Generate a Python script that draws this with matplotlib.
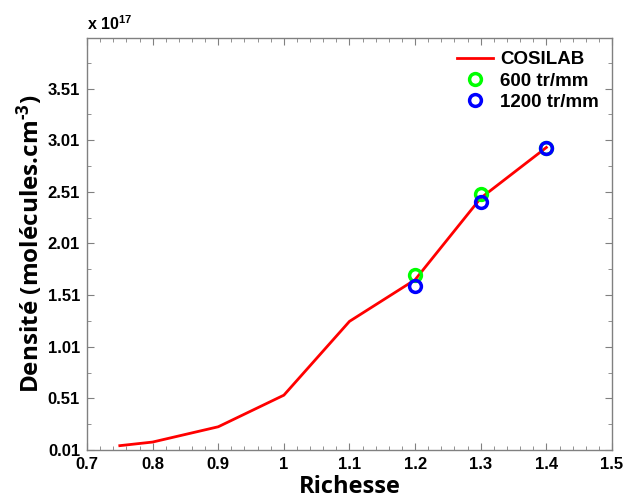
import matplotlib
matplotlib.use("Agg")
import matplotlib.pyplot as plt
import numpy as np

# Data (density in units of 1e17 molecules/cm^3)
richesse_cosilab = [0.75, 0.8, 0.9, 1.0, 1.1, 1.2, 1.3, 1.4]
densite_cosilab = [0.052, 0.087, 0.235, 0.541, 1.256, 1.659, 2.45, 2.94]

richesse_600 = [1.2, 1.3, 1.4]
densite_600 = [1.70, 2.49, 2.93]

richesse_1200 = [1.2, 1.3, 1.4]
densite_1200 = [1.60, 2.41, 2.93]

xticks = [0.7, 0.8, 0.9, 1.0, 1.1, 1.2, 1.3, 1.4, 1.5]
xticklabels = ["0.7", "0.8", "0.9", "1", "1.1", "1.2", "1.3", "1.4", "1.5"]
yticks = [0.01, 0.51, 1.01, 1.51, 2.01, 2.51, 3.01, 3.51]
yticklabels = ["0.01", "0.51", "1.01", "1.51", "2.01", "2.51", "3.01", "3.51"]

tick_font = "Liberation Sans"
label_font = "Open Sans"

plt.rcParams["mathtext.fontset"] = "custom"
plt.rcParams["mathtext.rm"] = "Open Sans:bold"
plt.rcParams["mathtext.bf"] = "Liberation Sans:bold"
plt.rcParams["mathtext.default"] = "rm"

fig = plt.figure(figsize=(6.24, 5.0), dpi=100)
ax = fig.add_axes([87/624, 50/500, (612-87)/624, (450-38)/500])

ax.plot(richesse_cosilab, densite_cosilab, color="#ff0000", lw=2.0, label="COSILAB")
ax.plot(richesse_600, densite_600, ls="none", marker="o", ms=8.5, mfc="none",
        mec="#00ff00", mew=2.5, label="600 tr/mm")
ax.plot(richesse_1200, densite_1200, ls="none", marker="o", ms=8.5, mfc="none",
        mec="#0000ff", mew=2.5, label="1200 tr/mm")

ax.set_xlim(0.7, 1.5)
ax.set_ylim(0.01, 4.0)
ax.set_xticks(xticks)
ax.set_xticklabels(xticklabels)
ax.set_yticks(yticks)
ax.set_yticklabels(yticklabels)
ax.set_xticks(np.arange(0.7, 1.5001, 0.02), minor=True)
ax.set_yticks(np.arange(0.26, 4.0, 0.5), minor=True)

for s in ax.spines.values():
    s.set_color("#808080")
    s.set_linewidth(1.0)
ax.tick_params(which="both", direction="in", top=True, right=True, color="#808080")
ax.tick_params(which="major", length=5, pad=5)
ax.tick_params(which="minor", length=3)
for lab in ax.get_xticklabels() + ax.get_yticklabels():
    lab.set_fontfamily(tick_font)
    lab.set_fontweight("bold")
    lab.set_fontsize(12)

ax.set_xlabel("Richesse", fontfamily=label_font, fontweight="bold", fontsize=17, labelpad=2)
ax.set_ylabel("Densité (molécules.cm$^{\\text{-3}}$)", fontfamily=label_font,
              fontweight="bold", fontsize=17.5, labelpad=2)

ax.text(0.0, 1.012, "x 10$^{\\mathbf{17}}$", transform=ax.transAxes, ha="left", va="bottom",
        fontfamily=tick_font, fontweight="bold", fontsize=11.5)

leg = ax.legend(loc="upper right", frameon=False,
                prop={"family": tick_font, "weight": "bold", "size": 13.5},
                handlelength=1.9, handletextpad=0.4, labelspacing=0.22,
                borderaxespad=0.3)

fig.savefig("out.png", dpi=100)
